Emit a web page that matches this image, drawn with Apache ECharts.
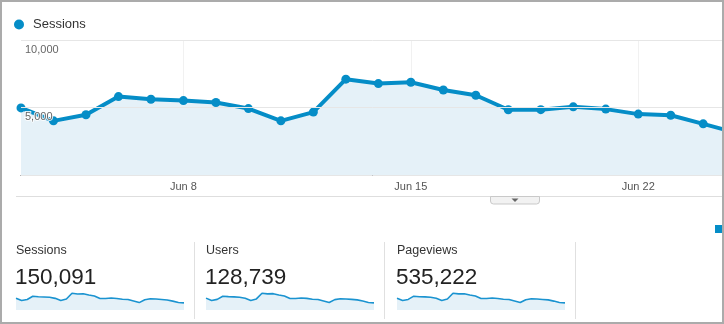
<!DOCTYPE html>
<html>
<head>
<meta charset="utf-8">
<title>Sessions overview</title>
<script src="https://cdn.jsdelivr.net/npm/echarts@6/dist/echarts.min.js"></script>
<style>
  html, body { margin: 0; padding: 0; background: #ffffff; }
  #chart { width: 724px; height: 324px; }
</style>
</head>
<body>
<div id="chart"></div>
<script>
// Daily dates in the reporting period
const days = [
  'Jun 3', 'Jun 4', 'Jun 5', 'Jun 6', 'Jun 7', 'Jun 8', 'Jun 9', 'Jun 10',
  'Jun 11', 'Jun 12', 'Jun 13', 'Jun 14', 'Jun 15', 'Jun 16', 'Jun 17', 'Jun 18',
  'Jun 19', 'Jun 20', 'Jun 21', 'Jun 22', 'Jun 23', 'Jun 24', 'Jun 25', 'Jun 26',
  'Jun 27', 'Jun 28', 'Jun 29', 'Jun 30', 'Jul 1', 'Jul 2', 'Jul 3'
];
// Dates that get a label on the time axis
const weekTicks = ['Jun 8', 'Jun 15', 'Jun 22', 'Jun 29'];

// Daily metrics
const sessions = [
  4970, 4010, 4460, 5810, 5610, 5510, 5370, 4920, 4010, 4660, 7100, 6770, 6870, 6300, 5910, 4830,
  4840, 5050, 4880, 4510, 4430, 3790, 3130, 4350, 4750, 4650, 4450, 4250, 3750, 3150, 3000
];
const users = [
  4280, 3450, 3830, 4970, 4810, 4720, 4600, 4230, 3450, 4000, 6060, 5800, 5890, 5410, 5070, 4150,
  4160, 4330, 4190, 3870, 3800, 3260, 2700, 3730, 4070, 3990, 3820, 3650, 3220, 2710, 2580
];
const pageviews = [
  17700, 14400, 15900, 20800, 20000, 19700, 19100, 17600, 14300, 16600, 25300, 24200, 24500, 22500, 21100, 17200,
  17300, 18000, 17400, 16100, 15800, 13500, 11200, 15500, 16900, 16600, 15900, 15200, 13400, 11200, 10700
];

// Summary cards
const metricNames = ['Sessions', 'Users', 'Pageviews'];
const metricTotals = [150091, 128739, 535222];
const yTicks = [0, 5000, 10000];

// The main plot shows the period from its first day up to this (fractional) day index;
// later days scroll out of view on the right.
const visibleDays = 21.64;

const BLUE = '#058dc7';
const FILL = '#e5f1f8';
const FONT = '"Liberation Sans", Arial, Helvetica, sans-serif';

const chart = echarts.init(document.getElementById('chart'), null, { renderer: 'canvas' });

const weekIdx = weekTicks.map(d => days.indexOf(d));
const asPoints = arr => arr.map((v, i) => [i, v]);

const sparkSeries = [sessions, users, pageviews];
const sparkLeft = [16, 206, 397];

const grids = [{ left: 21, top: 40, right: 0, height: 135, containLabel: false }];
const xAxes = [{
  type: 'value',
  gridIndex: 0,
  min: 0,
  max: visibleDays,
  axisLine: { onZero: false, lineStyle: { color: '#555a60', width: 1.2 } },
  axisTick: { show: false, customValues: weekIdx },
  axisLabel: {
    customValues: weekIdx,
    formatter: v => days[Math.round(v)],
    color: '#555',
    fontSize: 11,
    fontFamily: FONT,
    margin: 6
  },
  splitLine: { show: true, lineStyle: { color: '#f1f1f1', width: 1 } }
}];
const yAxes = [{
  type: 'value',
  gridIndex: 0,
  min: yTicks[0],
  max: yTicks[2],
  interval: yTicks[1] - yTicks[0],
  z: 3,
  axisLine: { show: false },
  axisTick: { show: false },
  splitLine: { lineStyle: { color: '#e6e6e6', width: 1 } },
  axisLabel: {
    inside: true,
    margin: 4,
    verticalAlign: 'top',
    padding: [4, 0, 0, 0],
    color: '#666',
    fontSize: 11,
    fontFamily: FONT,
    textBorderColor: 'rgba(255,255,255,0.85)',
    textBorderWidth: 2,
    formatter: v => (v === 0 ? '' : v.toLocaleString('en-US'))
  }
}];
const series = [{
  name: 'Sessions',
  type: 'line',
  xAxisIndex: 0,
  yAxisIndex: 0,
  data: asPoints(sessions),
  clip: true,
  z: 2,
  symbol: 'circle',
  symbolSize: 9,
  showAllSymbol: true,
  lineStyle: { color: BLUE, width: 4 },
  itemStyle: { color: BLUE },
  areaStyle: { color: FILL, opacity: 1 },
  emphasis: { disabled: true }
}];

sparkSeries.forEach((data, i) => {
  const g = i + 1;
  grids.push({ left: sparkLeft[i], top: 291, width: 168, height: 19 });
  xAxes.push({
    type: 'category', gridIndex: g, data: days, boundaryGap: false,
    axisLine: { show: false }, axisTick: { show: false },
    axisLabel: { show: false }, splitLine: { show: false }
  });
  yAxes.push({
    type: 'value', gridIndex: g, min: 0, max: v => v.max * 1.13,
    axisLine: { show: false }, axisTick: { show: false },
    axisLabel: { show: false }, splitLine: { show: false }
  });
  series.push({
    name: metricNames[i] + ' trend',
    type: 'line',
    xAxisIndex: g,
    yAxisIndex: g,
    data: data,
    showSymbol: false,
    lineStyle: { color: '#1a93d0', width: 1.6 },
    areaStyle: { color: FILL, opacity: 1 },
    emphasis: { disabled: true }
  });
});

// Page furniture: dividers, card titles and totals, toggle button, frame
const graphics = [
  { type: 'line', shape: { x1: 16, y1: 196.5, x2: 722, y2: 196.5 }, style: { stroke: '#dedede', lineWidth: 1 }, z: 10 },
  { type: 'rect', shape: { x: 490.5, y: 196.5, width: 49, height: 7.5, r: [0, 0, 3, 3] },
    style: { fill: '#f2f2f2', stroke: '#c9c9c9', lineWidth: 1 }, z: 11 },
  { type: 'polygon', shape: { points: [[511.5, 198.5], [518.5, 198.5], [515, 202]] },
    style: { fill: '#666' }, z: 12 },
  { type: 'rect', shape: { x: 715, y: 225, width: 7, height: 8 }, style: { fill: BLUE }, z: 10 }
];
[194.5, 384.5, 575.5].forEach(x => {
  graphics.push({ type: 'line', shape: { x1: x, y1: 242, x2: x, y2: 319 }, style: { stroke: '#e0e0e0', lineWidth: 1 }, z: 10 });
});
metricNames.forEach((name, i) => {
  graphics.push({
    type: 'text', x: sparkLeft[i], y: 251, z: 10,
    style: { text: name, font: '12.5px ' + FONT, fill: '#333', verticalAlign: 'middle' }
  });
  graphics.push({
    type: 'text', x: sparkLeft[i] - 1, y: 277.5, z: 10,
    style: { text: metricTotals[i].toLocaleString('en-US'), font: '22.5px ' + FONT, fill: '#222', verticalAlign: 'middle' }
  });
});
graphics.push({
  type: 'rect', shape: { x: 1, y: 1, width: 722, height: 322 },
  style: { fill: 'none', stroke: '#ababab', lineWidth: 2 }, z: 100
});

chart.setOption({
  animation: false,
  backgroundColor: '#ffffff',
  legend: {
    data: [{ name: 'Sessions', icon: 'circle' }],
    left: 14,
    top: 18,
    padding: 0,
    itemWidth: 10,
    itemHeight: 10,
    selectedMode: false,
    textStyle: { color: '#333', fontSize: 13, fontFamily: FONT, padding: [0, 0, 0, 4] }
  },
  grid: grids,
  xAxis: xAxes,
  yAxis: yAxes,
  series: series,
  graphic: { elements: graphics }
});
</script>
</body>
</html>
